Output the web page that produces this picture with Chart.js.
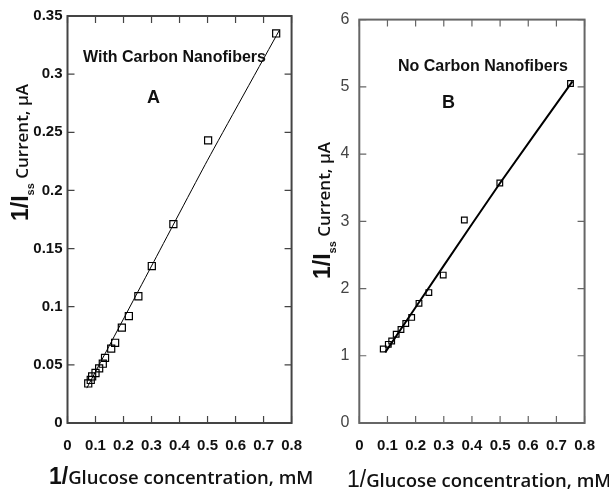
<!DOCTYPE html>
<html>
<head>
<meta charset="utf-8">
<script src="https://cdn.jsdelivr.net/npm/chart.js@4.4.1/dist/chart.umd.min.js"></script>
<style>
body { margin:0; background:#fff; width:609px; height:490px; position:relative; overflow:hidden; }
.box { position:absolute; top:0; height:470px; }
.txt { position:absolute; white-space:nowrap; color:#111; font-family:"Liberation Sans", Arial, sans-serif; }
.rot { transform-origin:0 0; transform:rotate(-90deg); line-height:24px; }
.big { font-weight:bold; font-size:23px; }
.cal { font-family:"Open Sans", sans-serif; font-weight:600; font-size:17px; }
.xt { font-size:18.5px; }
.sub { font-weight:bold; font-size:11px; position:relative; top:6px; }
</style>
</head>
<body>
<div class="box" style="left:0;width:316px"><canvas id="chartA"></canvas></div>
<div class="box" style="left:310px;width:299px"><canvas id="chartB"></canvas></div>

<div class="txt" style="left:83px;top:49px;font-weight:bold;font-size:16px;line-height:16px">With Carbon Nanofibers</div>
<div class="txt" style="left:147px;top:88px;font-weight:bold;font-size:18px;line-height:18px">A</div>
<div class="txt" style="left:398px;top:58px;font-weight:bold;font-size:16px;line-height:16px">No Carbon Nanofibers</div>
<div class="txt" style="left:442px;top:93px;font-weight:bold;font-size:18px;line-height:18px">B</div>

<div class="txt rot" style="left:8px;top:221px"><span class="big">1/I</span><span class="sub">ss</span> <span class="cal">Current, μA</span></div>
<div class="txt rot" style="left:310px;top:279px"><span class="big">1/I</span><span class="sub">ss</span> <span class="cal">Current, μA</span></div>

<div class="txt" style="left:49px;top:464px;line-height:24px"><span class="big">1/</span><span class="cal xt">Glucose concentration, mM</span></div>
<div class="txt" style="left:347px;top:467px;line-height:24px"><span class="big" style="font-weight:normal">1/</span><span class="cal xt">Glucose concentration, mM</span></div>

<script>
// Panel A: with carbon nanofibers
var xA = [0.074, 0.083, 0.088, 0.100, 0.113, 0.126, 0.134, 0.156, 0.170, 0.194, 0.219, 0.253, 0.301, 0.378, 0.502, 0.745]
var yA = [0.034, 0.037, 0.040, 0.043, 0.047, 0.051, 0.056, 0.064, 0.069, 0.082, 0.092, 0.109, 0.135, 0.171, 0.243, 0.335]
var fitXA = [0.069, 0.300, 0.500, 0.757]
var fitYA = [0.030, 0.135, 0.226, 0.338]

// Panel B: no carbon nanofibers
var xB = [0.085, 0.103, 0.115, 0.131, 0.148, 0.165, 0.186, 0.212, 0.247, 0.298, 0.373, 0.499, 0.750]
var yB = [1.10, 1.17, 1.22, 1.32, 1.39, 1.48, 1.57, 1.78, 1.94, 2.20, 3.02, 3.57, 5.05]
var fitXB = [0.092, 0.300, 0.500, 0.757]
var fitYB = [1.05, 2.34, 3.57, 5.08]

// tick labels
var xTicks = [0, 0.1, 0.2, 0.3, 0.4, 0.5, 0.6, 0.7, 0.8]
var xTickLabels = ['0', '0.1', '0.2', '0.3', '0.4', '0.5', '0.6', '0.7', '0.8']
var yTicksA = [0, 0.05, 0.1, 0.15, 0.2, 0.25, 0.3, 0.35]
var yTickLabelsA = ['0', '0.05', '0.1', '0.15', '0.2', '0.25', '0.3', '0.35']
var yTicksB = [0, 1, 2, 3, 4, 5, 6]
var yTickLabelsB = ['0', '1', '2', '3', '4', '5', '6']

const toPoints = (xs, ys) => xs.map((x, i) => ({x: x, y: ys[i]}))

// box round the plot with inward ticks on all four sides
const framePlugin = {
  id: 'frame',
  afterDatasetsDraw(chart, args, opts) {
    const ctx = chart.ctx, a = chart.chartArea
    const sx = chart.scales.x, sy = chart.scales.y
    ctx.save()
    ctx.strokeStyle = opts.color
    ctx.lineWidth = opts.width
    ctx.strokeRect(a.left, a.top, a.right - a.left, a.bottom - a.top)
    ctx.lineWidth = 1.2
    ctx.beginPath()
    sx.ticks.forEach(t => {
      const px = sx.getPixelForValue(t.value)
      ctx.moveTo(px, a.bottom); ctx.lineTo(px, a.bottom - opts.len)
      ctx.moveTo(px, a.top); ctx.lineTo(px, a.top + opts.len)
    })
    sy.ticks.forEach(t => {
      const py = sy.getPixelForValue(t.value)
      ctx.moveTo(a.left, py); ctx.lineTo(a.left + opts.len, py)
      ctx.moveTo(a.right, py); ctx.lineTo(a.right - opts.len, py)
    })
    ctx.stroke()
    ctx.restore()
  }
}

const makeChart = (id, pts, fit, fitWidth, yMax, yVals, yLabels, cfg) => {
  new Chart(document.getElementById(id), {
    type: 'scatter',
    data: {
      datasets: [
        {
          data: fit,
          showLine: true,
          borderColor: '#000',
          borderWidth: fitWidth,
          pointRadius: 0,
          tension: 0.2,
        },
        {
          data: pts,
          showLine: false,
          pointStyle: 'rect',
          pointRadius: cfg.radius,
          pointBorderColor: '#000',
          pointBorderWidth: 1.2,
          pointBackgroundColor: 'rgba(255,255,255,0)',
        }
      ]
    },
    options: {
      responsive: true,
      maintainAspectRatio: false,
      animation: false,
      layout: { padding: cfg.padding },
      plugins: {
        legend: { display: false },
        tooltip: { enabled: false },
        frame: { color: cfg.frameColor, width: 2, len: 7 }
      },
      scales: {
        x: {
          type: 'linear',
          min: 0, max: 0.8,
          afterBuildTicks: s => { s.ticks = xTicks.map(v => ({value: v})) },
          afterFit: s => { s.height = cfg.xHeight },
          grid: { display: false, drawTicks: false },
          border: { display: false },
          ticks: {
            padding: 14,
            color: '#111',
            font: { family: 'Liberation Sans', size: 15, weight: 'bold' },
            callback: (v, i) => xTickLabels[i]
          }
        },
        y: {
          type: 'linear',
          min: 0, max: yMax,
          afterBuildTicks: s => { s.ticks = yVals.map(v => ({value: v})) },
          afterFit: s => { s.width = cfg.yWidth },
          grid: { display: false, drawTicks: false },
          border: { display: false },
          ticks: {
            padding: cfg.yPad,
            color: cfg.yColor,
            font: cfg.yFont,
            callback: (v, i) => yLabels[i]
          }
        }
      }
    },
    plugins: [framePlugin]
  })
}

makeChart('chartA', toPoints(xA, yA), toPoints(fitXA, fitYA), 1, 0.35, yTicksA, yTickLabelsA, {
  radius: 5,
  padding: { top: 16, right: 13.5, left: 0, bottom: 0 },
  xHeight: 47, yWidth: 67.5, yPad: 5,
  yColor: '#111',
  yFont: { family: 'Liberation Sans', size: 15, weight: 'bold' },
  frameColor: '#444'
})

makeChart('chartB', toPoints(xB, yB), toPoints(fitXB, fitYB), 2, 6, yTicksB, yTickLabelsB, {
  radius: 4,
  padding: { top: 15, right: 15, left: 0, bottom: 0 },
  xHeight: 47, yWidth: 49.3, yPad: 10,
  yColor: '#444',
  yFont: { family: 'Liberation Sans', size: 16, weight: 'normal' },
  frameColor: '#666'
})
</script>
</body>
</html>
